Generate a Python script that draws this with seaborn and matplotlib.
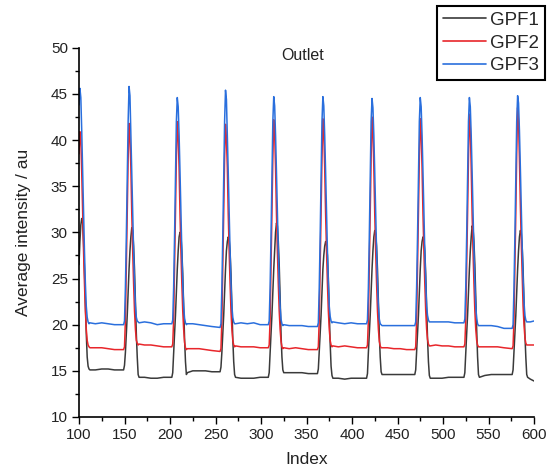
import numpy as np
import pandas as pd
import seaborn as sns
import matplotlib
matplotlib.use("Agg")
import matplotlib.pyplot as plt
from matplotlib.ticker import MultipleLocator

# ---- data ----
index = (list(range(100, 113)) + [118, 125, 132, 139] +
         list(range(149, 167)) + [172, 179, 186, 193] +
         list(range(202, 220)) + [225, 232, 239, 246] +
         list(range(255, 273)) + [278, 285, 292, 299] +
         list(range(308, 326)) + [331, 338, 345, 352] +
         list(range(362, 380)) + [385, 392, 399, 406] +
         list(range(416, 434)) + [439, 446, 453, 460] +
         list(range(469, 487)) + [492, 499, 506, 513] +
         list(range(523, 541)) + [546, 553, 560, 567] +
         list(range(576, 594)) + [596, 600])

gpf3 = [43.8, 45.6, 44.6, 41.0, 36.5, 32.0, 28.0, 24.5, 22.0, 20.8, 20.3, 20.1, 20.2, 20.1, 20.2, 20.1, 20.0,
        20.0, 20.4, 24.0, 29.5, 36.0, 42.0, 45.8, 44.8, 40.5, 36.5, 32.0, 28.0, 24.5, 22.0, 20.8, 20.4, 20.3, 20.2, 20.3, 20.2, 20.0, 20.1,
        20.1, 20.5, 24.0, 29.5, 36.0, 42.0, 44.6, 43.6, 40.5, 36.5, 32.0, 28.0, 24.5, 22.0, 20.7, 20.2, 20.0, 20.1, 20.1, 20.0, 19.9, 19.8,
        19.7, 20.1, 24.0, 29.5, 36.0, 42.0, 45.4, 44.4, 40.5, 36.5, 32.0, 28.0, 24.5, 22.0, 20.8, 20.3, 20.1, 20.1, 20.2, 20.1, 20.2, 20.0,
        20.0, 20.4, 24.0, 29.5, 36.0, 42.0, 44.7, 43.7, 40.5, 36.5, 32.0, 28.0, 24.5, 22.0, 20.6, 20.1, 19.9, 20.0, 19.9, 19.9, 19.9, 19.8,
        19.8, 20.2, 24.0, 29.5, 36.0, 42.0, 44.7, 43.7, 40.5, 36.5, 32.0, 28.0, 24.5, 22.0, 20.9, 20.4, 20.2, 20.3, 20.2, 20.1, 20.2, 20.1,
        20.1, 20.5, 24.0, 29.5, 36.0, 42.0, 44.5, 43.5, 40.5, 36.5, 32.0, 28.0, 24.5, 22.0, 20.6, 20.1, 20.0, 19.9, 19.9, 19.9, 19.9, 19.9,
        19.9, 20.3, 24.0, 29.5, 36.0, 42.0, 44.6, 43.6, 40.5, 36.5, 32.0, 28.0, 24.5, 22.0, 21.0, 20.5, 20.3, 20.3, 20.3, 20.3, 20.3, 20.2,
        20.2, 20.6, 24.0, 29.5, 36.0, 42.0, 44.6, 43.6, 40.5, 36.5, 32.0, 28.0, 24.5, 22.0, 20.7, 20.1, 19.9, 19.9, 19.9, 19.9, 19.8, 19.6,
        19.6, 20.0, 24.0, 29.5, 36.0, 42.0, 44.8, 44.0, 41.0, 37.0, 32.5, 28.5, 25.0, 22.5, 21.0, 20.5, 20.3, 20.3, 20.3, 20.4]

gpf2 = [38.5, 40.9, 40.0, 36.5, 32.0, 28.0, 24.5, 21.5, 19.5, 18.3, 17.8, 17.6, 17.5, 17.5, 17.5, 17.4, 17.3,
        17.3, 17.6, 20.5, 26.0, 32.0, 38.0, 41.8, 40.3, 37.0, 32.0, 28.0, 24.5, 21.5, 19.5, 18.3, 18.0, 17.8, 17.9, 17.8, 17.8, 17.7, 17.6,
        17.6, 17.9, 20.5, 26.0, 32.0, 38.0, 42.0, 40.5, 37.0, 32.0, 28.0, 24.5, 21.5, 19.5, 18.1, 17.5, 17.3, 17.4, 17.4, 17.4, 17.3, 17.2,
        17.1, 17.4, 20.5, 26.0, 32.0, 38.0, 41.7, 40.2, 37.0, 32.0, 28.0, 24.5, 21.5, 19.5, 18.3, 17.8, 17.6, 17.7, 17.6, 17.6, 17.6, 17.5,
        17.5, 17.8, 20.5, 26.0, 32.0, 38.0, 42.2, 40.7, 37.0, 32.0, 28.0, 24.5, 21.5, 19.5, 18.2, 17.6, 17.4, 17.5, 17.4, 17.5, 17.4, 17.3,
        17.3, 17.6, 20.5, 26.0, 32.0, 38.0, 42.3, 40.8, 37.0, 32.0, 28.0, 24.5, 21.5, 19.5, 18.3, 17.8, 17.6, 17.7, 17.6, 17.7, 17.6, 17.5,
        17.5, 17.8, 20.5, 26.0, 32.0, 38.0, 42.5, 41.0, 37.0, 32.0, 28.0, 24.5, 21.5, 19.5, 18.2, 17.7, 17.5, 17.5, 17.5, 17.4, 17.4, 17.3,
        17.3, 17.6, 20.5, 26.0, 32.0, 38.0, 42.3, 40.8, 37.0, 32.0, 28.0, 24.5, 21.5, 19.5, 18.4, 17.9, 17.7, 17.7, 17.8, 17.7, 17.7, 17.6,
        17.6, 17.9, 20.5, 26.0, 32.0, 38.0, 42.8, 41.3, 37.0, 32.0, 28.0, 24.5, 21.5, 19.5, 18.3, 17.8, 17.6, 17.6, 17.6, 17.6, 17.6, 17.5,
        17.4, 17.7, 20.5, 26.0, 32.0, 38.5, 43.5, 42.0, 38.0, 33.0, 29.0, 25.5, 22.0, 20.0, 18.6, 18.0, 17.8, 17.8, 17.8, 17.8]

gpf1 = [26.5, 29.0, 30.8, 31.5, 31.2, 29.0, 26.0, 22.5, 19.0, 16.5, 15.5, 15.2, 15.1, 15.1, 15.2, 15.2, 15.1,
        15.1, 15.6, 17.0, 19.0, 21.0, 23.5, 26.0, 28.0, 29.5, 30.5, 30.2, 28.5, 26.0, 22.5, 19.0, 16.5, 14.6, 14.3, 14.3, 14.2, 14.2, 14.3,
        14.3, 14.8, 17.0, 19.0, 21.0, 23.5, 26.0, 28.0, 29.5, 30.0, 29.7, 28.0, 25.5, 22.0, 18.5, 16.0, 14.6, 14.8, 15.0, 15.0, 15.0, 14.9,
        14.9, 15.4, 17.0, 19.0, 21.0, 23.5, 26.0, 28.0, 29.0, 29.5, 29.2, 28.0, 25.5, 22.0, 18.5, 16.0, 14.6, 14.3, 14.2, 14.2, 14.2, 14.3,
        14.3, 14.8, 17.0, 19.0, 21.0, 23.5, 26.0, 28.0, 30.0, 31.0, 30.7, 29.0, 26.5, 23.0, 19.0, 16.5, 15.1, 14.8, 14.8, 14.8, 14.8, 14.7,
        14.7, 15.2, 17.0, 19.0, 21.0, 23.5, 26.0, 27.5, 28.5, 29.0, 28.7, 27.5, 25.0, 21.5, 18.0, 15.5, 14.5, 14.2, 14.2, 14.1, 14.2, 14.2,
        14.2, 14.7, 17.0, 19.0, 21.0, 23.5, 26.0, 28.0, 29.5, 30.2, 29.9, 28.5, 26.0, 22.5, 19.0, 16.5, 14.9, 14.6, 14.6, 14.6, 14.6, 14.6,
        14.6, 15.1, 17.0, 19.0, 21.0, 23.5, 26.0, 28.0, 29.0, 29.5, 29.2, 28.0, 25.5, 22.0, 18.5, 16.0, 14.5, 14.2, 14.2, 14.2, 14.3, 14.3,
        14.3, 14.8, 17.0, 19.0, 21.0, 23.5, 26.0, 28.0, 29.5, 30.7, 30.4, 29.0, 26.5, 23.0, 19.5, 16.5, 14.6, 14.3, 14.5, 14.6, 14.6, 14.6,
        14.6, 15.1, 17.0, 19.0, 21.0, 23.5, 26.0, 28.0, 29.5, 30.2, 29.9, 28.5, 26.0, 22.5, 19.0, 16.5, 14.6, 14.3, 14.1, 13.9]

series_names = ["GPF1", "GPF2", "GPF3"]
colors = {"GPF1": "#3a3a3a", "GPF2": "#e8262b", "GPF3": "#2a6fdd"}

df = pd.concat([
    pd.DataFrame({"Index": index, "value": gpf1, "series": "GPF1"}),
    pd.DataFrame({"Index": index, "value": gpf2, "series": "GPF2"}),
    pd.DataFrame({"Index": index, "value": gpf3, "series": "GPF3"}),
], ignore_index=True)

# ---- plot ----
sns.set_style("ticks")
plt.rcParams["font.family"] = ["Liberation Sans", "DejaVu Sans"]

fig = plt.figure(figsize=(5.56, 4.76), dpi=100)
ax = fig.add_axes([79 / 556, 1 - 417 / 476, (534 - 79) / 556, (417 - 47.7) / 476])

sns.lineplot(data=df, x="Index", y="value", hue="series", hue_order=series_names,
             palette=colors, estimator=None, sort=False, linewidth=1.1,
             legend=False, ax=ax)

ax.set_xlim(100, 600)
ax.set_ylim(10, 50)
ax.xaxis.set_major_locator(MultipleLocator(50))
ax.xaxis.set_minor_locator(MultipleLocator(25))
ax.yaxis.set_major_locator(MultipleLocator(5))
ax.yaxis.set_minor_locator(MultipleLocator(2.5))
ax.tick_params(which="major", direction="out", length=5, width=1, colors="black",
               labelsize=11, labelcolor="#222222", pad=3)
ax.tick_params(which="minor", direction="out", length=3, width=1, colors="black")
for s in ["top", "right"]:
    ax.spines[s].set_visible(False)
for s in ["left", "bottom"]:
    ax.spines[s].set_color("black")
    ax.spines[s].set_linewidth(1.2)

ax.set_xlabel("Index", fontsize=12.5, color="#222222", labelpad=7)
ax.set_ylabel("Average intensity / au", fontsize=12.5, color="#222222", labelpad=14)
ax.text(0.492, 0.98, "Outlet", transform=ax.transAxes, ha="center", va="center",
        fontsize=11.5, color="#222222")

handles = [plt.Line2D([], [], color=colors[n], lw=1.2) for n in series_names]
leg = fig.legend(handles, series_names, loc="upper right",
                 bbox_to_anchor=(545 / 556, 1 - 6 / 476), frameon=True,
                 fancybox=False, shadow=False, fontsize=13.5, handlelength=2.3,
                 handletextpad=0.25, labelspacing=0.3, borderpad=0.3,
                 borderaxespad=0.0)
leg.get_frame().set_edgecolor("black")
leg.get_frame().set_linewidth(1.5)
leg.get_frame().set_alpha(1)

fig.savefig("out.png", dpi=100)
